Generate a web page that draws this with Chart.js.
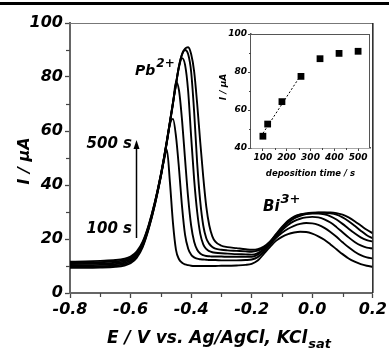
<!DOCTYPE html>
<html><head><meta charset="utf-8">
<script src="https://cdn.jsdelivr.net/npm/chart.js@4.4.0/dist/chart.umd.min.js"></script>
<style>
html,body{margin:0;padding:0;background:#fff;}
#wrap{position:relative;width:389px;height:349px;overflow:hidden;background:#fff;}
#main{position:absolute;left:0;top:0;width:389px;height:349px;}
#inset{position:absolute;left:205px;top:25px;width:175px;height:160px;}
</style></head><body>
<div id="wrap">
<canvas id="main" width="389" height="349"></canvas>
<canvas id="inset" width="175" height="160"></canvas>
</div>
<script>
// ---- main voltammograms (E / V vs Ag/AgCl, I / µA) ----
const potentials = [-0.80,-0.75,-0.70,-0.65,-0.62,-0.60,-0.58,-0.56,-0.54,-0.52,-0.50,-0.49,-0.48,-0.47,-0.46,-0.45,-0.44,-0.43,-0.42,-0.41,-0.40,-0.39,-0.38,-0.37,-0.36,-0.35,-0.34,-0.33,-0.32,-0.30,-0.28,-0.25,-0.22,-0.20,-0.18,-0.16,-0.14,-0.12,-0.10,-0.08,-0.06,-0.04,-0.02,0.00,0.02,0.04,0.06,0.08,0.10,0.12,0.14,0.16,0.18,0.20];
const currentCurve1 = [9.3,9.3,9.4,9.7,10.2,11.0, 13.0,17.0,23.8,32.5,43.0, 49.0,53.0,41.0,26.0,16.0,12.5,11.2,10.6,10.3,10.1,10.0,10.0,10.0,10.0,10.0,10.0,10.0,10.0, 10.1,10.1,10.2,10.4, 10.8,12.0,14.5,17.0,19.3,20.8,21.8,22.4,22.7,22.6,22.0,21.0,19.7,18.0,16.2,14.4,12.8,11.6,10.7,10.1,9.7];
const currentCurve2 = [9.8,9.8,9.9,10.2,10.7,11.5, 13.5,17.4,24.1,32.7,43.2, 49.3,55.8,62.5,64.5,58.0,46.0,32.0,21.5,16.5,14.2,13.2,12.7,12.5,12.4,12.3,12.2,12.2,12.2, 12.1,12.1,12.1,12.2, 12.4,13.3,15.3,17.8,20.3,22.3,23.8,24.9,25.6,25.9,25.8,25.2,24.1,22.6,20.8,18.8,16.9,15.3,14.0,13.2,12.8];
const currentCurve3 = [10.3,10.3,10.4,10.7,11.2,12.0, 14.0,17.8,24.4,33.0,43.4, 49.5,56.0,63.0,70.0,78.3,75.0,64.0,49.5,35.5,25.0,19.0,16.0,14.6,14.0,13.7,13.6,13.5,13.5, 13.5,13.4,13.4,13.4, 13.4,14.2,16.0,18.2,20.8,23.2,25.2,26.6,27.5,28.0,28.2,28.0,27.3,26.1,24.4,22.5,20.6,18.9,17.6,16.8,16.5];
const currentCurve4 = [10.7,10.8,10.9,11.2,11.7,12.5, 14.4,18.2,24.7,33.2,43.6, 49.7,56.2,63.2,70.2,77.2,83.7,87.0,84.5,75.0,58.0,42.0,30.0,22.0,18.0,16.3,15.5,15.1,14.9, 14.7,14.6,14.4,14.3, 14.2,14.8,16.3,18.5,21.2,23.8,26.0,27.6,28.6,29.2,29.4,29.4,29.1,28.4,27.2,25.6,23.8,22.1,20.6,19.6,19.0];
const currentCurve5 = [11.1,11.2,11.4,11.7,12.2,13.0, 14.8,18.6,25.0,33.4,43.8, 49.8,56.4,63.4,70.4,77.4,84.0,88.3,90.0,88.5,82.0,67.0,48.0,34.0,25.0,20.3,18.2,17.0,16.4, 16.0,15.8,15.6,15.4, 15.3,15.7,16.8,18.8,21.5,24.2,26.5,28.1,29.0,29.4,29.6,29.7,29.7,29.5,29.0,28.0,26.6,24.9,23.1,21.4,20.2];
const currentCurve6 = [11.6,11.7,11.9,12.2,12.7,13.5, 15.3,19.0,25.3,33.6,44.0, 50.0,56.6,63.6,70.6,77.6,84.2,88.5,90.5,91.0,88.5,82.0,70.0,56.0,43.0,32.0,25.0,21.0,19.0, 17.5,17.0,16.6,16.2, 16.0,16.2,17.2,19.0,21.8,24.5,26.8,28.3,29.1,29.5,29.7,29.8,29.8,29.8,29.6,29.0,28.0,26.6,25.0,23.4,22.1];
const mainXTicks = [-0.8,-0.6,-0.4,-0.2,0.0,0.2];
const mainXMinor = [-0.7,-0.5,-0.3,-0.1,0.1];
const mainYTicks = [0,20,40,60,80,100];
const mainYMinor = [10,30,50,70,90];

// ---- inset: Pb peak current vs deposition time ----
const depositionTimes = [100,120,180,260,340,420,500];
const peakCurrents   = [46.2,52.6,64.4,77.7,87.0,89.8,90.9];
const fitTimes       = [100,260];
const fitCurrents    = [47.7,78.5];
const insetXTicks = [100,200,300,400,500];
const insetXMinor = [150,250,350,450];
const insetYTicks = [40,60,80,100];
const insetYMinor = [50,70,90];

const FAM = '"DejaVu Sans", sans-serif';
const curves = [currentCurve1,currentCurve2,currentCurve3,currentCurve4,currentCurve5,currentCurve6];

function seg(ctx,x1,y1,x2,y2){ctx.beginPath();ctx.moveTo(x1,y1);ctx.lineTo(x2,y2);ctx.stroke();}
function supText(ctx, base, sup, x, y, f1, f2, dy){
  ctx.font = f1; ctx.fillText(base, x, y);
  const w = ctx.measureText(base).width;
  ctx.font = f2; ctx.fillText(sup, x + w + 1, y - dy);
}

const mainDecor = {
  id:'mainDecor',
  afterDraw(chart){
    const {ctx, chartArea:a, scales:{x,y}} = chart;
    ctx.save();
    ctx.fillStyle = '#000';
    ctx.fillRect(0, 2, chart.width, 3);
    ctx.strokeStyle = '#777'; ctx.lineWidth = 1;
    seg(ctx, a.left, a.top + 0.5, a.right, a.top + 0.5);
    ctx.strokeStyle = '#222'; ctx.lineWidth = 1.5;
    seg(ctx, a.right, a.top, a.right, a.bottom);
    ctx.strokeStyle = '#444'; ctx.lineWidth = 1.2;
    mainXMinor.forEach(v => { const p = Math.round(x.getPixelForValue(v)) + 0.5; seg(ctx, p, a.bottom, p, a.bottom + 4); });
    mainYMinor.forEach(v => { const p = Math.round(y.getPixelForValue(v)) + 0.5; seg(ctx, a.left - 4, p, a.left, p); });
    // arrow
    ctx.strokeStyle = '#000'; ctx.lineWidth = 1.5;
    const ax = 136.5;
    seg(ctx, ax, 238, ax, 147);
    ctx.beginPath(); ctx.moveTo(ax, 140); ctx.lineTo(ax - 3, 149); ctx.lineTo(ax + 3, 149); ctx.closePath(); ctx.fill();
    // texts
    ctx.fillStyle = '#000'; ctx.textBaseline = 'alphabetic';
    ctx.textAlign = 'right';
    ctx.font = 'italic bold 15px ' + FAM;
    ctx.fillText('500 s', 132, 148);
    ctx.fillText('100 s', 132, 233);
    ctx.textAlign = 'left';
    supText(ctx, 'Pb', '2+', 135, 75, 'italic bold 14px ' + FAM, 'italic bold 12px ' + FAM, 8);
    supText(ctx, 'Bi', '3+', 263, 211, 'italic bold 15px ' + FAM, 'italic bold 13px ' + FAM, 8);
    // x title
    ctx.font = 'italic bold 17px ' + FAM;
    const t = 'E / V vs. Ag/AgCl, KCl';
    ctx.fillText(t, 107, 343);
    const w = ctx.measureText(t).width;
    ctx.font = 'italic bold 13px ' + FAM;
    ctx.fillText('sat', 107 + w + 1, 348);
    // y title
    ctx.save();
    ctx.translate(29, 161); ctx.rotate(-Math.PI/2);
    ctx.textAlign = 'center';
    ctx.font = 'italic bold 16px ' + FAM;
    ctx.fillText('I / \u03bcA', 0, 0);
    ctx.restore();
    ctx.restore();
  }
};

const tickFont = {family: FAM, size: 16, weight: 'bold', style: 'italic'};

new Chart(document.getElementById('main'), {
  type: 'line',
  data: {
    datasets: curves.map(c => ({
      data: potentials.map((e, i) => ({x: e, y: c[i]})),
      borderColor: '#000', borderWidth: 1.9, pointRadius: 0,
      cubicInterpolationMode: 'monotone', fill: false
    }))
  },
  options: {
    responsive: false, animation: false,
    layout: {padding: {left: 0, top: 23, right: 16, bottom: 0}},
    plugins: {legend: {display: false}, tooltip: {enabled: false}},
    scales: {
      x: {
        type: 'linear', min: -0.8, max: 0.2,
        afterBuildTicks: s => { s.ticks = mainXTicks.map(v => ({value: v})); },
        afterFit: s => { s.height = 56; },
        ticks: {font: tickFont, color: '#000', padding: 2, maxRotation: 0, autoSkip: false,
          callback: v => (Math.abs(v) < 1e-9 ? '0.0' : Number(v).toFixed(1))},
        grid: {drawOnChartArea: false, drawTicks: true, tickLength: 5, tickColor: '#444', tickWidth: 1.3},
        border: {color: '#666', width: 2}
      },
      y: {
        type: 'linear', min: 0, max: 100,
        afterBuildTicks: s => { s.ticks = mainYTicks.map(v => ({value: v})); },
        afterFit: s => { s.width = 70; },
        ticks: {font: tickFont, color: '#000', padding: 2, autoSkip: false},
        grid: {drawOnChartArea: false, drawTicks: true, tickLength: 5, tickColor: '#444', tickWidth: 1.3},
        border: {color: '#666', width: 2}
      }
    }
  },
  plugins: [mainDecor]
});

const insetDecor = {
  id: 'insetDecor',
  beforeDatasetsDraw(chart){
    const {ctx, chartArea:a} = chart;
    ctx.save(); ctx.fillStyle = '#fff';
    ctx.fillRect(a.left, a.top, a.right - a.left, a.bottom - a.top);
    ctx.restore();
  },
  afterDraw(chart){
    const {ctx, chartArea:a, scales:{x,y}} = chart;
    ctx.save();
    ctx.strokeStyle = '#555'; ctx.lineWidth = 1;
    seg(ctx, a.left, a.top + 0.5, a.right, a.top + 0.5);
    seg(ctx, a.right - 0.5, a.top, a.right - 0.5, a.bottom);
    ctx.strokeStyle = '#444'; ctx.lineWidth = 1;
    insetXMinor.forEach(v => { const p = Math.round(x.getPixelForValue(v)) + 0.5; seg(ctx, p, a.bottom, p, a.bottom + 2); });
    insetYMinor.forEach(v => { const p = Math.round(y.getPixelForValue(v)) + 0.5; seg(ctx, a.left - 2, p, a.left, p); });
    ctx.fillStyle = '#000';
    ctx.textAlign = 'center'; ctx.textBaseline = 'alphabetic';
    ctx.font = 'italic bold 8.5px ' + FAM;
    ctx.fillText('deposition time / s', (a.left + a.right) / 2, 151);
    ctx.save();
    ctx.translate(21, 62); ctx.rotate(-Math.PI/2);
    ctx.font = 'italic bold 9px ' + FAM;
    ctx.fillText('I / \u03bcA', 0, 0);
    ctx.restore();
    ctx.restore();
  }
};

const insetFont = {family: FAM, size: 9, weight: 'bold', style: 'italic'};
new Chart(document.getElementById('inset'), {
  type: 'scatter',
  data: {
    datasets: [
      {type: 'line', data: fitTimes.map((t, i) => ({x: t, y: fitCurrents[i]})),
       borderColor: '#000', borderWidth: 1, borderDash: [2, 2], pointRadius: 0, fill: false},
      {data: depositionTimes.map((t, i) => ({x: t, y: peakCurrents[i]})),
       pointStyle: 'rect', pointRadius: 4.8, backgroundColor: '#000', borderColor: '#000', borderWidth: 0}
    ]
  },
  options: {
    responsive: false, animation: false,
    layout: {padding: {left: 0, top: 9, right: 10, bottom: 0}},
    plugins: {legend: {display: false}, tooltip: {enabled: false}},
    scales: {
      x: {
        type: 'linear', min: 50, max: 550,
        afterBuildTicks: s => { s.ticks = insetXTicks.map(v => ({value: v})); },
        afterFit: s => { s.height = 37; },
        ticks: {font: insetFont, color: '#000', padding: 1, maxRotation: 0, autoSkip: false},
        grid: {drawOnChartArea: false, drawTicks: true, tickLength: 3, tickColor: '#444', tickWidth: 1},
        border: {color: '#555', width: 1.5}
      },
      y: {
        type: 'linear', min: 40, max: 100,
        afterBuildTicks: s => { s.ticks = insetYTicks.map(v => ({value: v})); },
        afterFit: s => { s.width = 46; },
        ticks: {font: insetFont, color: '#000', padding: 1, autoSkip: false},
        grid: {drawOnChartArea: false, drawTicks: true, tickLength: 3, tickColor: '#444', tickWidth: 1},
        border: {color: '#555', width: 1.5}
      }
    }
  },
  plugins: [insetDecor]
});
</script>
</body></html>
